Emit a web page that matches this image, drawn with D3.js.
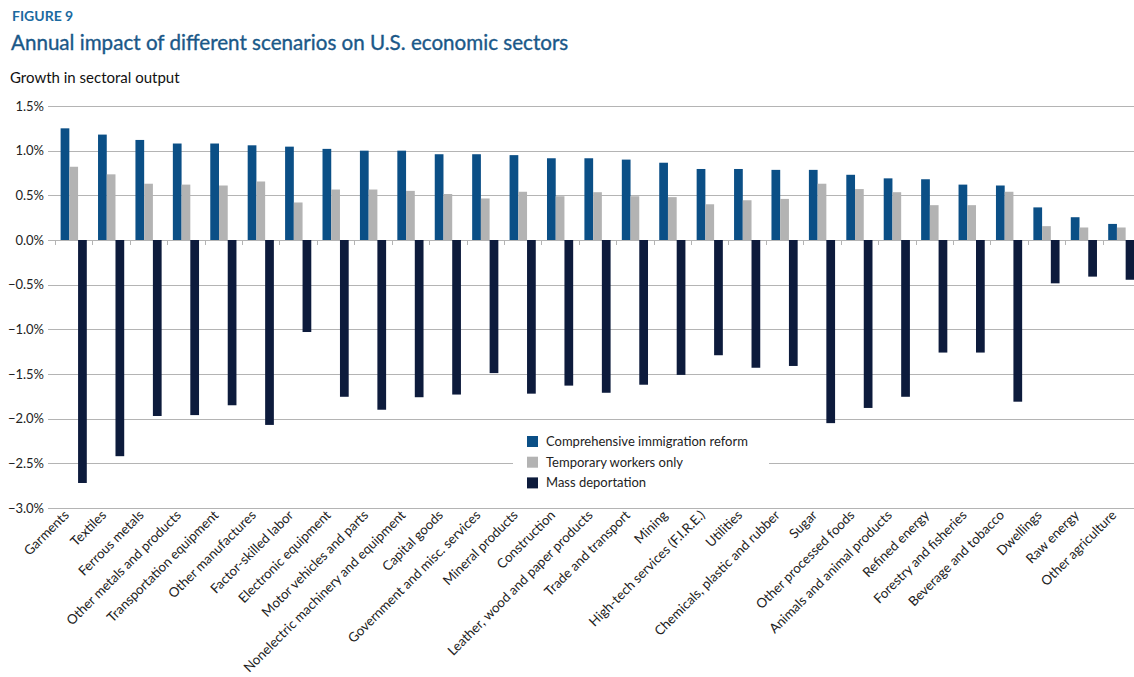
<!DOCTYPE html>
<html>
<head>
<meta charset="utf-8">
<script src="https://cdn.jsdelivr.net/npm/d3@7"></script>
<style>
  body { margin: 0; background: #fff; }
  svg text { font-family: "Lato", "Open Sans", sans-serif; }
</style>
</head>
<body>
<div id="chart"></div>
<script>
var sectors = ["Garments", "Textiles", "Ferrous metals", "Other metals and products",
  "Transportation equipment", "Other manufactures", "Factor-skilled labor",
  "Electronic equipment", "Motor vehicles and parts", "Nonelectric machinery and equipment",
  "Capital goods", "Government and misc. services", "Mineral products", "Construction",
  "Leather, wood and paper products", "Trade and transport", "Mining",
  "High-tech services (F.I.R.E.)", "Utilities", "Chemicals, plastic and rubber", "Sugar",
  "Other processed foods", "Animals and animal products", "Refined energy",
  "Forestry and fisheries", "Beverage and tobacco", "Dwellings", "Raw energy",
  "Other agriculture"];

var reform = [1.25, 1.18, 1.12, 1.08, 1.08, 1.06, 1.045, 1.02, 1.00, 1.00,
  0.96, 0.96, 0.95, 0.915, 0.915, 0.90, 0.865, 0.795, 0.795, 0.785, 0.785,
  0.73, 0.69, 0.68, 0.62, 0.61, 0.365, 0.255, 0.18];

var temporary = [0.82, 0.735, 0.63, 0.62, 0.61, 0.655, 0.42, 0.565, 0.565, 0.55,
  0.515, 0.465, 0.54, 0.49, 0.535, 0.49, 0.48, 0.40, 0.445, 0.46, 0.63,
  0.57, 0.535, 0.39, 0.39, 0.54, 0.155, 0.14, 0.14];

var deportation = [-2.72, -2.42, -1.97, -1.96, -1.85, -2.07, -1.03, -1.755, -1.90, -1.76,
  -1.73, -1.49, -1.72, -1.63, -1.71, -1.62, -1.51, -1.29, -1.43, -1.41, -2.05,
  -1.88, -1.755, -1.26, -1.26, -1.81, -0.485, -0.41, -0.445];

var seriesNames = ["Comprehensive immigration reform", "Temporary workers only", "Mass deportation"];
var seriesColors = ["#0b4f86", "#b3b3b3", "#0d1b3c"];
var yTicks = [1.5, 1.0, 0.5, 0.0, -0.5, -1.0, -1.5, -2.0, -2.5, -3.0];

var W = 1134, H = 677;
var svg = d3.select("#chart").append("svg")
  .attr("width", W).attr("height", H);

// titles
svg.append("text").attr("x", 12).attr("y", 21)
  .attr("font-size", 14).attr("font-weight", "bold").attr("fill", "#1b6aa0")
  .text("FIGURE 9");
svg.append("text").attr("x", 11).attr("y", 50)
  .attr("font-size", 20.6).attr("fill", "#1a5888")
  .style("paint-order", "stroke").attr("stroke", "#1a5888").attr("stroke-width", 0.35)
  .text("Annual impact of different scenarios on U.S. economic sectors");
svg.append("text").attr("x", 10).attr("y", 83)
  .attr("font-size", 15).attr("fill", "#111")
  .text("Growth in sectoral output");

var y = d3.scaleLinear().domain([-3, 1.5]).range([508, 106]);

var x = d3.scaleBand().domain(sectors).range([55, 1140])
  .paddingInner(0.3).paddingOuter(0.15);
var xs = d3.scaleBand().domain(d3.range(3)).range([0, x.bandwidth()]);

// gridlines
svg.append("g").selectAll("line").data(yTicks).enter().append("line")
  .attr("x1", 48).attr("x2", W)
  .attr("y1", function(d) { return Math.round(y(d)) + 0.5; })
  .attr("y2", function(d) { return Math.round(y(d)) + 0.5; })
  .attr("stroke", "#b4b4b4").attr("stroke-width", 1);

// y axis labels
var yAxis = svg.append("g").attr("transform", "translate(44,0)")
  .call(d3.axisLeft(y).tickValues(yTicks).tickSize(0).tickPadding(0)
    .tickFormat(function(d) { return d3.format(".1f")(d) + "%"; }));
yAxis.select(".domain").remove();
yAxis.selectAll("text").attr("font-size", 13).attr("fill", "#222")
  .style("font-family", "Lato, sans-serif");

// category ticks on zero line
var step = x.step();
svg.append("g").selectAll("line").data(d3.range(sectors.length + 1)).enter().append("line")
  .attr("x1", function(i) { return Math.round(55 + i * step) + 0.5; })
  .attr("x2", function(i) { return Math.round(55 + i * step) + 0.5; })
  .attr("y1", y(0)).attr("y2", y(0) + 5)
  .attr("stroke", "#b4b4b4");

// bars
var rows = sectors.map(function(s, i) {
  return { sector: s, values: [reform[i], temporary[i], deportation[i]] };
});
var groups = svg.append("g").selectAll("g").data(rows).enter().append("g")
  .attr("transform", function(d) { return "translate(" + x(d.sector) + ",0)"; });
groups.selectAll("rect").data(function(d) { return d.values; }).enter().append("rect")
  .attr("x", function(v, j) { return xs(j); })
  .attr("width", xs.bandwidth())
  .attr("y", function(v) { return v >= 0 ? y(v) : y(0); })
  .attr("height", function(v) { return Math.abs(y(v) - y(0)); })
  .attr("fill", function(v, j) { return seriesColors[j]; });

// x labels
svg.append("g").selectAll("text").data(sectors).enter().append("text")
  .attr("transform", function(d) {
    return "translate(" + (x(d) + x.bandwidth() / 2 - 4) + ",516) rotate(-45)";
  })
  .attr("text-anchor", "end")
  .attr("font-size", 13.3).attr("fill", "#222")
  .text(function(d) { return d; });

// legend
var lg = svg.append("g").attr("transform", "translate(513,430)");
lg.append("rect").attr("width", 256).attr("height", 64).attr("fill", "#fff");
seriesNames.forEach(function(name, j) {
  lg.append("rect").attr("x", 14).attr("y", 6 + j * 20.7)
    .attr("width", 11).attr("height", 11).attr("fill", seriesColors[j]);
  lg.append("text").attr("x", 33).attr("y", 16 + j * 20.7)
    .attr("font-size", 13).attr("fill", "#222").text(name);
});
</script>
</body>
</html>
